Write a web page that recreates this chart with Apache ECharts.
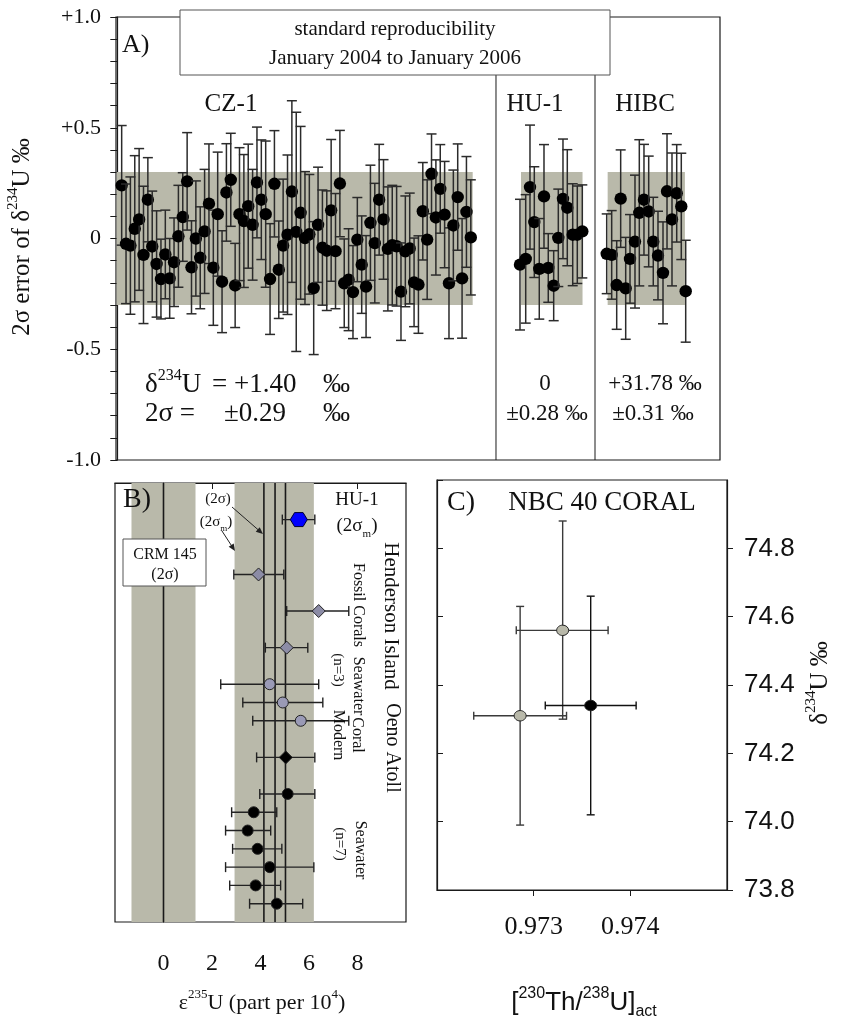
<!DOCTYPE html>
<html><head><meta charset="utf-8">
<script src="https://cdn.jsdelivr.net/npm/echarts@6/dist/echarts.min.js"></script>
<style>html,body{margin:0;padding:0;background:#fff}#c{width:844px;height:1025px}</style>
</head><body><div id="c"></div>
<script>
// ---------- Panel A data (2σ error of δ234U, ‰) ----------
const czY = [0.24,-0.024,-0.032,0.044,0.086,-0.074,0.175,-0.036,-0.115,-0.183,-0.072,-0.18,-0.107,0.01,0.097,0.258,-0.13,0.0,-0.087,0.032,0.157,-0.132,0.11,-0.195,0.208,0.265,-0.212,0.11,0.079,0.146,0.062,0.253,0.175,0.11,-0.183,0.247,-0.141,-0.032,0.017,0.212,0.03,0.116,0.002,0.019,-0.224,0.062,-0.041,-0.055,0.127,-0.057,0.248,-0.202,-0.186,-0.242,-0.005,-0.118,-0.217,0.071,-0.021,0.175,0.086,-0.047,-0.03,-0.035,-0.24,-0.058,-0.045,-0.198,-0.208,0.123,-0.005,0.292,0.095,0.224,0.108,-0.202,0.059,0.187,-0.18,0.12,0.005];
const czErr = [0.27,0.27,0.31,0.33,0.32,0.31,0.19,0.25,0.24,0.18,0.2,0.18,0.2,0.23,0.2,0.22,0.21,0.26,0.23,0.28,0.27,0.26,0.28,0.23,0.22,0.21,0.19,0.3,0.3,0.28,0.25,0.25,0.27,0.33,0.25,0.24,0.22,0.3,0.36,0.41,0.54,0.39,0.3,0.27,0.3,0.26,0.26,0.27,0.32,0.26,0.24,0.2,0.23,0.21,0.19,0.22,0.23,0.26,0.27,0.25,0.27,0.28,0.27,0.27,0.22,0.25,0.25,0.2,0.22,0.22,0.27,0.18,0.26,0.2,0.24,0.25,0.25,0.24,0.27,0.25,0.26];
const huX = [92.27,93.58,94.56,95.55,96.69,97.77,98.75,99.99,101.05,102.12,103.11,104.35,105.40,106.55];
const huY = [-0.118,-0.092,0.232,0.074,-0.137,0.19,-0.133,-0.213,0.003,0.179,0.139,0.017,0.017,0.032];
const huErr = [0.295,0.29,0.28,0.25,0.227,0.234,0.155,0.158,0.22,0.27,0.262,0.23,0.22,0.21];
const hibcX = [112.14,113.28,114.43,115.34,116.49,117.48,118.62,119.61,120.68,121.76,122.81,123.89,125.04,125.96,127.10,128.18,129.23,130.24];
const hibcY = [-0.069,-0.074,-0.21,0.18,-0.225,-0.092,-0.014,0.116,0.175,0.122,-0.014,-0.077,-0.155,0.213,0.086,0.204,0.145,-0.238];
const hibcErr = [0.18,0.2,0.2,0.22,0.23,0.2,0.3,0.33,0.25,0.25,0.2,0.2,0.23,0.26,0.3,0.22,0.24,0.23];
const bandsA = [[-0.15,81.43],[92.5,106.6],[112.36,130.06]];
const bandHalfA = 0.3;
const dividersA = [86.77,109.46];
const yTicksA = ['-1.0','-0.5','0','+0.5','+1.0'];

// ---------- Panel B data (ε235U, part per 10^4) ----------
// [value, row, low, high]
const huB = [[5.58,2,4.9,6.24]];
const fossilCorals = [[3.92,5,2.9,4.96],[6.4,7,5.08,7.64],[5.08,9,4.2,5.95]];
const hendersonSeawater = [[4.38,11,2.36,6.4],[4.92,12,3.27,6.57],[5.66,13,3.68,7.64]];
const oenoCoral = [[5.04,15,3.84,6.24]];
const oenoSeawater = [[5.12,17,3.97,6.24],[3.72,18,2.81,4.67],[3.47,19,2.56,4.42],[3.88,20,2.85,4.88],[4.38,21,2.56,6.2],[3.80,22,2.73,4.83],[4.67,23,3.55,5.74]];
const bandsB = [[-1.32,1.32],[2.93,6.2]];
const refLinesB = [0,4.14,4.6,5.03];

// ---------- Panel C data (NBC 40 coral) ----------
// [Th/U, δ234U, xLow, xHigh, yLow, yHigh]
const nbcGray = [[0.97286,74.31,0.97238,0.97334,73.99,74.63],[0.97330,74.56,0.97282,0.97377,74.30,74.88]];
const nbcBlack = [[0.97359,74.34,0.97312,0.97406,74.02,74.66]];

const SER = "'Liberation Serif','DejaVu Serif',serif";
const SAN = "'Liberation Sans','DejaVu Sans',sans-serif";
const INK = '#1a1a1a';
const BAND = '#b9b9aa';

function rectBand() {
  return function (params, api) {
    const a = api.coord([api.value(0), api.value(2)]);
    const b = api.coord([api.value(1), api.value(3)]);
    return {type:'rect', shape:{x:a[0], y:a[1], width:b[0]-a[0], height:b[1]-a[1]}, style:{fill:BAND}};
  };
}
function vLine(params, api) {
  const a = api.coord([api.value(0), api.value(1)]);
  const b = api.coord([api.value(0), api.value(2)]);
  return {type:'line', shape:{x1:a[0],y1:a[1],x2:b[0],y2:b[1]}, style:{stroke:INK, lineWidth:api.value(3)}};
}
function errA(params, api) {
  const x = api.value(0), y = api.value(1), e = api.value(2);
  const c = api.coord([x,y]), t = api.coord([x,y+e]), b = api.coord([x,y-e]);
  const w = 5, st = {stroke:'#2b2b2b', lineWidth:1.5};
  return {type:'group', children:[
    {type:'line', shape:{x1:t[0],y1:t[1],x2:b[0],y2:b[1]}, style:st},
    {type:'line', shape:{x1:t[0]-w,y1:t[1],x2:t[0]+w,y2:t[1]}, style:st},
    {type:'line', shape:{x1:b[0]-w,y1:b[1],x2:b[0]+w,y2:b[1]}, style:st},
    {type:'circle', shape:{cx:c[0],cy:c[1],r:6.2}, style:{fill:'#000'}}
  ]};
}
function markerShape(kind, cx, cy, fill) {
  const st = {fill, stroke:'#222', lineWidth:1};
  if (kind === 'circle') return {type:'circle', shape:{cx,cy,r:5.5}, style:st};
  if (kind === 'diamond') { const s = 6.5; return {type:'polygon', shape:{points:[[cx,cy-s],[cx+s,cy],[cx,cy+s],[cx-s,cy]]}, style:st}; }
  const rx = 8.5, ry = 7;
  return {type:'polygon', shape:{points:[[cx-rx,cy],[cx-rx/2,cy-ry],[cx+rx/2,cy-ry],[cx+rx,cy],[cx+rx/2,cy+ry],[cx-rx/2,cy+ry]]}, style:{fill, stroke:'#000033', lineWidth:1}};
}
function errB(kind, fill) {
  return function (params, api) {
    const v = api.value(0), r = api.value(1);
    const c = api.coord([v,r]), l = api.coord([api.value(2),r]), h = api.coord([api.value(3),r]);
    const w = 5, st = {stroke:'#222', lineWidth:1.4};
    return {type:'group', children:[
      {type:'line', shape:{x1:l[0],y1:l[1],x2:h[0],y2:h[1]}, style:st},
      {type:'line', shape:{x1:l[0],y1:l[1]-w,x2:l[0],y2:l[1]+w}, style:st},
      {type:'line', shape:{x1:h[0],y1:h[1]-w,x2:h[0],y2:h[1]+w}, style:st},
      markerShape(kind, c[0], c[1], fill)
    ]};
  };
}
function errC(fill, stroke) {
  return function (params, api) {
    const x = api.value(0), y = api.value(1);
    const c = api.coord([x,y]);
    const xl = api.coord([api.value(2),y]), xh = api.coord([api.value(3),y]);
    const yl = api.coord([x,api.value(4)]), yh = api.coord([x,api.value(5)]);
    const w = 4, st = {stroke, lineWidth:1.4};
    return {type:'group', children:[
      {type:'line', shape:{x1:xl[0],y1:xl[1],x2:xh[0],y2:xh[1]}, style:st},
      {type:'line', shape:{x1:xl[0],y1:xl[1]-w,x2:xl[0],y2:xl[1]+w}, style:st},
      {type:'line', shape:{x1:xh[0],y1:xh[1]-w,x2:xh[0],y2:xh[1]+w}, style:st},
      {type:'line', shape:{x1:yl[0],y1:yl[1],x2:yh[0],y2:yh[1]}, style:st},
      {type:'line', shape:{x1:yl[0]-w,y1:yl[1],x2:yl[0]+w,y2:yl[1]}, style:st},
      {type:'line', shape:{x1:yh[0]-w,y1:yh[1],x2:yh[0]+w,y2:yh[1]}, style:st},
      {type:'ellipse', shape:{cx:c[0],cy:c[1],rx:6,ry:5.2}, style:{fill, stroke:'#222', lineWidth:1}}
    ]};
  };
}

// ---------- text helpers ----------
function txt(x, y, text, size, o) {
  o = o || {};
  return {type:'text', x, y, rotation:o.rot||0, z:100,
    style:{text, fontSize:size, fontFamily:o.font||SER, fill:'#111', align:o.align||'center', verticalAlign:'middle', rich:o.rich}};
}
function richSup(size, font) {
  return {
    n:{fontSize:size, fontFamily:font||SER, lineHeight:size+8, verticalAlign:'middle'},
    s:{fontSize:Math.round(size*0.6), fontFamily:font||SER, lineHeight:Math.round(size*0.62), verticalAlign:'top'},
    b:{fontSize:Math.round(size*0.6), fontFamily:font||SER, lineHeight:Math.round(size*0.62), verticalAlign:'bottom'}
  };
}
function arrow(x1,y1,x2,y2) {
  const dx=x2-x1, dy=y2-y1, L=Math.hypot(dx,dy), ux=dx/L, uy=dy/L, px=-uy, py=ux, hl=7, hw=3;
  return [
    {type:'line', z:100, shape:{x1,y1,x2:x2-ux*hl*0.8,y2:y2-uy*hl*0.8}, style:{stroke:'#222', lineWidth:1}},
    {type:'polygon', z:100, shape:{points:[[x2,y2],[x2-ux*hl+px*hw,y2-uy*hl+py*hw],[x2-ux*hl-px*hw,y2-uy*hl-py*hw]]}, style:{fill:'#222'}}
  ];
}

const graphic = [
  // Panel A
  {type:'rect', z:99, shape:{x:180,y:10,width:430,height:65}, style:{fill:'#fff', stroke:'#555', lineWidth:1}},
  txt(395,29,'standard reproducibility',21),
  txt(395,58,'January 2004 to January 2006',21),
  txt(122,45,'A)',26,{align:'left'}),
  txt(231,104,'CZ-1',25), txt(535,104,'HU-1',25), txt(645,104,'HIBC',25),
  txt(145,385,'{n|δ}{s|234}{n|U}',27,{align:'left', rich:richSup(27)}),
  txt(212,385,'= +1.40',27,{align:'left'}),
  txt(350,385,'‰',27,{align:'right'}),
  txt(145,414,'2σ =',27,{align:'left'}),
  txt(224,414,'±0.29',27,{align:'left'}),
  txt(350,414,'‰',27,{align:'right'}),
  txt(545,384,'0',23), txt(547,414,'±0.28 ‰',23),
  txt(655,384,'+31.78 ‰',23), txt(653,414,'±0.31 ‰',23),
  txt(22,237,'{n|2σ error of δ}{s|234}{n|U ‰}',25,{rot:Math.PI/2, rich:richSup(25)}),
  // Panel B
  txt(123,500,'B)',28,{align:'left'}),
  txt(218,499,'(2σ)',15),
  txt(216,522,'{n|(2σ}{b|m}{n|)}',15,{rich:richSup(15)}),
  ...arrow(232,507,263,534),
  ...arrow(222,531,235,551),
  {type:'rect', z:99, shape:{x:123,y:539,width:83,height:47}, style:{fill:'#fff', stroke:'#555', lineWidth:1}},
  txt(165,555,'CRM 145',16), txt(165,575,'(2σ)',16),
  txt(357,500,'HU-1',19),
  txt(357,526,'{n|(2σ}{b|m}{n|)}',19,{rich:richSup(19)}),
  txt(391,616,'Henderson Island',21,{rot:-Math.PI/2}),
  txt(358,605,'Fossil Corals',16,{rot:-Math.PI/2}),
  txt(358,686,'Seawater',16,{rot:-Math.PI/2}),
  txt(338,670,'(n=3)',15,{rot:-Math.PI/2}),
  txt(357,735,'Coral',16,{rot:-Math.PI/2}),
  txt(338,735,'Modern',16,{rot:-Math.PI/2}),
  txt(392,748,'Oeno Atoll',20,{rot:-Math.PI/2}),
  txt(360,850,'Seawater',16,{rot:-Math.PI/2}),
  txt(340,844,'(n=7)',15,{rot:-Math.PI/2}),
  txt(262,1003,'{n|ε}{s|235}{n|U (part per 10}{s|4}{n|)}',22,{rich:richSup(22)}),
  // Panel C
  txt(447,503,'C)',28,{align:'left'}),
  txt(602,503,'NBC 40 CORAL',27),
  txt(820,683,'{n|δ}{s|234}{n|U ‰}',25,{rot:Math.PI/2, rich:richSup(25)}),
  txt(584,1003,'{n|[}{s|230}{n|Th/}{s|238}{n|U]}{b|act}',26,{font:SAN, rich:richSup(26,SAN)})
];

const axLine = {show:true, lineStyle:{color:INK, width:1.2}};
const option = {
  animation:false,
  backgroundColor:'#fff',
  grid:[
    {left:116, top:17, width:604, height:443, show:true, borderColor:INK, borderWidth:1.2},
    {left:115, top:483, width:291, height:439, show:true, borderColor:INK, borderWidth:1.2},
    {left:437, top:480, width:290, height:410, show:true, borderColor:INK, borderWidth:1.2}
  ],
  xAxis:[
    {gridIndex:0, type:'value', min:-0.3, max:138.1, show:false},
    {gridIndex:1, type:'value', min:-2, max:10, interval:2, axisLine:axLine,
      axisTick:{show:true, length:6, lineStyle:{color:INK}}, splitLine:{show:false},
      axisLabel:{showMinLabel:false, showMaxLabel:false, fontSize:24, fontFamily:SER, color:'#111', margin:30}},
    {gridIndex:2, type:'value', min:0.972, max:0.975, interval:0.001, axisLine:axLine,
      axisTick:{show:true, length:6, lineStyle:{color:INK}}, splitLine:{show:false},
      axisLabel:{showMinLabel:false, showMaxLabel:false, fontSize:26, fontFamily:SER, color:'#111', margin:24,
        formatter:v=>v.toFixed(3)}}
  ],
  yAxis:[
    {gridIndex:0, type:'value', min:-1, max:1, interval:0.5, axisLine:axLine,
      axisTick:{show:true, length:7, lineStyle:{color:INK}},
      minorTick:{show:true, splitNumber:5, length:7, lineStyle:{color:INK}},
      splitLine:{show:false}, minorSplitLine:{show:false},
      axisLabel:{fontSize:22, fontFamily:SER, color:'#111', margin:15,
        formatter:v=>yTicksA[Math.round((v+1)/0.5)]}},
    {gridIndex:1, type:'value', min:0, max:24, inverse:true, axisLine:axLine,
      axisTick:{show:false}, axisLabel:{show:false}, splitLine:{show:false}},
    {gridIndex:2, type:'value', position:'right', min:73.8, max:75.0, interval:0.2, axisLine:axLine,
      axisTick:{show:true, length:6, lineStyle:{color:INK}}, splitLine:{show:false},
      axisLabel:{showMaxLabel:false, fontSize:26, fontFamily:SAN, color:'#111', margin:17, formatter:v=>v.toFixed(1)}},
    {gridIndex:2, type:'value', position:'left', min:73.8, max:75.0, interval:0.2, axisLine:axLine,
      axisTick:{show:true, inside:true, length:6, lineStyle:{color:INK}}, axisLabel:{show:false}, splitLine:{show:false}}
  ],
  graphic,
  series:[
    // Panel A
    {type:'custom', xAxisIndex:0, yAxisIndex:0, renderItem:rectBand(), z:1,
      data:bandsA.map(b=>[b[0],b[1],bandHalfA,-bandHalfA])},
    {type:'custom', xAxisIndex:0, yAxisIndex:0, renderItem:vLine, z:2,
      data:dividersA.map(x=>[x,1,-1,1])},
    {type:'custom', xAxisIndex:0, yAxisIndex:0, renderItem:errA, z:3,
      data:czY.map((y,i)=>[i+1,y,czErr[i]])},
    {type:'custom', xAxisIndex:0, yAxisIndex:0, renderItem:errA, z:3,
      data:huY.map((y,i)=>[huX[i],y,huErr[i]])},
    {type:'custom', xAxisIndex:0, yAxisIndex:0, renderItem:errA, z:3,
      data:hibcY.map((y,i)=>[hibcX[i],y,hibcErr[i]])},
    // Panel B
    {type:'custom', xAxisIndex:1, yAxisIndex:1, renderItem:rectBand(), z:1,
      data:bandsB.map(b=>[b[0],b[1],0,24])},
    {type:'custom', xAxisIndex:1, yAxisIndex:1, renderItem:vLine, z:2,
      data:refLinesB.map(x=>[x,0,24,1.6])},
    {type:'custom', xAxisIndex:1, yAxisIndex:1, renderItem:errB('hexagon','#0000ff'), z:3, data:huB},
    {type:'custom', xAxisIndex:1, yAxisIndex:1, renderItem:errB('diamond','#8c8ca6'), z:3, data:fossilCorals},
    {type:'custom', xAxisIndex:1, yAxisIndex:1, renderItem:errB('circle','#9a9ab6'), z:3, data:hendersonSeawater},
    {type:'custom', xAxisIndex:1, yAxisIndex:1, renderItem:errB('diamond','#000'), z:3, data:oenoCoral},
    {type:'custom', xAxisIndex:1, yAxisIndex:1, renderItem:errB('circle','#000'), z:3, data:oenoSeawater},
    // Panel C
    {type:'custom', xAxisIndex:2, yAxisIndex:2, renderItem:errC('#b9b9aa','#3a3a3a'), z:3, data:nbcGray},
    {type:'custom', xAxisIndex:2, yAxisIndex:2, renderItem:errC('#000','#111'), z:3, data:nbcBlack}
  ]
};
const chart = echarts.init(document.getElementById('c'), null, {renderer:'canvas'});
chart.setOption(option);
</script></body></html>
